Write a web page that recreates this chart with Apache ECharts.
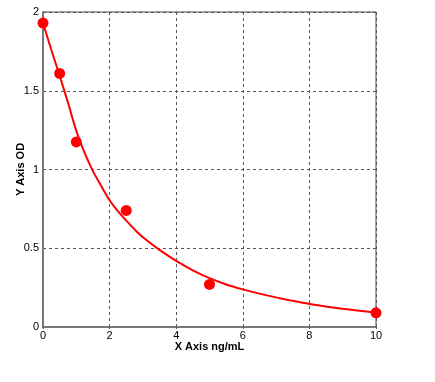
<!DOCTYPE html>
<html><head><meta charset="utf-8">
<script src="https://cdn.jsdelivr.net/npm/echarts@6/dist/echarts.min.js"></script>
<style>html,body{margin:0;padding:0;background:#fff}#c{width:435px;height:382px}</style>
</head><body><div id="c"></div>
<script>
const pointX = [0, 0.5, 1, 2.5, 5, 10];
const pointY = [1.93, 1.61, 1.175, 0.74, 0.27, 0.09];
const curveX = [0, 0.25, 0.5, 0.75, 1, 1.25, 1.5, 1.75, 2, 2.25, 2.5, 2.75, 3, 3.5, 4, 4.5, 5, 5.5, 6, 6.5, 7, 7.5, 8, 8.5, 9, 9.5, 10];
const curveY = [1.93, 1.76, 1.595, 1.425, 1.245, 1.105, 0.99, 0.895, 0.805, 0.735, 0.675, 0.62, 0.57, 0.49, 0.42, 0.36, 0.31, 0.27, 0.239, 0.212, 0.188, 0.166, 0.146, 0.13, 0.116, 0.103, 0.091];
const xTicks = [0, 2, 4, 6, 8, 10];
const yTicks = [0, 0.5, 1, 1.5, 2];

const font = 'Liberation Sans, Arial, sans-serif';
const chart = echarts.init(document.getElementById('c'), null, {renderer: 'canvas'});
chart.setOption({
  animation: false,
  backgroundColor: '#fff',
  grid: {left: 43, top: 12, width: 333, height: 315, show: true, borderColor: '#444', borderWidth: 1,
         backgroundColor: 'transparent', containLabel: false, outerBoundsMode: 'none'},
  xAxis: {
    type: 'value', min: 0, max: 10, interval: 2,
    name: 'X Axis ng/mL', nameLocation: 'middle', nameGap: 14, nameMoveOverlap: false,
    nameTextStyle: {fontFamily: font, fontSize: 11, fontWeight: 'bold', color: '#000'},
    axisLine: {show: true, lineStyle: {color: '#777', width: 2}},
    axisTick: {show: true, length: 2, inside: false, lineStyle: {color: '#555'}},
    axisLabel: {fontFamily: font, fontSize: 11, color: '#000', margin: 3,
      formatter: v => xTicks.includes(v) ? String(v) : ''},
    splitLine: {show: true, lineStyle: {color: '#555', type: [3, 3], width: 1}}
  },
  yAxis: {
    type: 'value', min: 0, max: 2, interval: 0.5,
    name: 'Y Axis OD', nameLocation: 'middle', nameGap: 17, nameRotate: 90, nameMoveOverlap: false,
    nameTextStyle: {fontFamily: font, fontSize: 11, fontWeight: 'bold', color: '#000'},
    axisLine: {show: true, lineStyle: {color: '#777', width: 2}},
    axisTick: {show: false},
    axisLabel: {fontFamily: font, fontSize: 11, color: '#000', margin: 4,
      formatter: v => yTicks.includes(v) ? String(v) : ''},
    splitLine: {show: true, lineStyle: {color: '#555', type: [3, 3], width: 1}}
  },
  series: [
    {type: 'line', data: curveX.map((x, i) => [x, curveY[i]]), smooth: 0.3, showSymbol: false,
     lineStyle: {color: '#ff0000', width: 2}, z: 3},
    {type: 'scatter', data: pointX.map((x, i) => [x, pointY[i]]), symbol: 'circle', symbolSize: 11,
     itemStyle: {color: '#ff0000', opacity: 1}, z: 4}
  ]
});
</script></body></html>
